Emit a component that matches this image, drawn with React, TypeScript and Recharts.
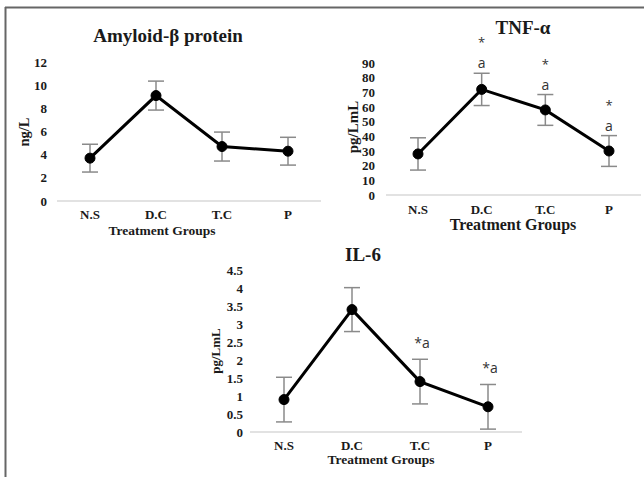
import React from 'react';
import { LineChart, Line, XAxis, YAxis, ErrorBar, LabelList } from 'recharts';

// groups on the x axis (same for all three panels)
const groups = ['N.S', 'D.C', 'T.C', 'P'];

const amyloidValues = [3.7, 9.1, 4.7, 4.3];
const amyloidErrors = [1.2, 1.25, 1.25, 1.2];
const amyloidTicks = [0, 2, 4, 6, 8, 10, 12];

const tnfValues = [28, 72, 58, 30];
const tnfErrors = [11, 11, 10.5, 10.5];
const tnfTicks = [0, 10, 20, 30, 40, 50, 60, 70, 80, 90];
const tnfStars = ['', '*', '*', '*'];
const tnfLetters = ['', 'a', 'a', 'a'];

const il6Values = [0.9, 3.4, 1.4, 0.7];
const il6Errors = [0.62, 0.61, 0.62, 0.62];
const il6Ticks = [0, 0.5, 1, 1.5, 2, 2.5, 3, 3.5, 4, 4.5];
const il6Marks = ['', '', '*a', '*a'];

const buildRows = (values: number[], errors: number[]) =>
  groups.map((g, i) => ({ group: g, value: values[i], err: errors[i], top: values[i] + errors[i] }));

const serif = '"Liberation Serif", "Times New Roman", serif';
const sans = '"Open Sans", "Liberation Sans", sans-serif';
const ink = '#1a1a1a';

type PanelProps = {
  left: number;
  top: number;
  width: number;
  height: number;
  margin: { top: number; right: number; bottom: number; left: number };
  yWidth: number;
  yTickMargin: number;
  xTickMargin: number;
  pad: number;
  domain: [number, number];
  ticks: number[];
  rows: ReturnType<typeof buildRows>;
  marks?: (p: any) => React.ReactElement | null;
};

const Panel = (p: PanelProps) => {
  const tickStyle = { fill: ink, fontSize: 13, fontWeight: 700, fontFamily: serif };
  return (
    <div style={{ position: 'absolute', left: p.left, top: p.top }}>
      <LineChart width={p.width} height={p.height} data={p.rows} margin={p.margin}>
        <XAxis
          dataKey="group"
          height={30}
          padding={{ left: p.pad, right: p.pad }}
          tickLine={false}
          tickSize={0}
          tickMargin={p.xTickMargin}
          axisLine={{ stroke: '#d9d9d9', strokeWidth: 1.5 }}
          tick={tickStyle}
          interval={0}
        />
        <YAxis
          width={p.yWidth}
          domain={p.domain}
          ticks={p.ticks}
          interval={0}
          axisLine={false}
          tickLine={false}
          tickSize={0}
          tickMargin={p.yTickMargin}
          tick={tickStyle}
        />
        <Line
          dataKey="value"
          stroke="#000"
          strokeWidth={3}
          dot={{ r: 5, fill: '#000', stroke: '#000', strokeWidth: 1 }}
          activeDot={false}
          isAnimationActive={false}
        >
          <ErrorBar dataKey="err" direction="y" width={8} stroke="#8a8a8a" strokeWidth={1.5} />
        </Line>
        {p.marks && (
          <Line dataKey="top" stroke="none" dot={false} activeDot={false} isAnimationActive={false}>
            <LabelList dataKey="top" content={p.marks} />
          </Line>
        )}
      </LineChart>
    </div>
  );
};

const tnfMarks = (props: any) => {
  const { x, y, index } = props;
  if (!tnfStars[index]) return null;
  return (
    <g>
      <text x={x} y={y - 26} textAnchor="middle" fontSize={13} fontFamily={sans} fill="#333">
        {tnfStars[index]}
      </text>
      <text x={x} y={y - 5} textAnchor="middle" fontSize={14} fontFamily={sans} fill="#333">
        {tnfLetters[index]}
      </text>
    </g>
  );
};

const il6MarkLabels = (props: any) => {
  const { x, y, index } = props;
  if (!il6Marks[index]) return null;
  return (
    <text x={x + 2} y={y - 11} textAnchor="middle" fontSize={14} fontFamily={sans} fill="#333">
      {il6Marks[index]}
    </text>
  );
};

export default function App() {
  return (
    <div style={{ position: 'absolute', left: 0, top: 0, width: 644, height: 477, background: '#fff', overflow: 'hidden' }}>
      <Panel
        left={0}
        top={0}
        width={330}
        height={240}
        margin={{ top: 62, right: 9, bottom: 9, left: 0 }}
        yWidth={57}
        yTickMargin={10}
        xTickMargin={9}
        pad={33}
        domain={[0, 12]}
        ticks={amyloidTicks}
        rows={buildRows(amyloidValues, amyloidErrors)}
      />
      <Panel
        left={320}
        top={0}
        width={324}
        height={240}
        margin={{ top: 63, right: 3, bottom: 15, left: 0 }}
        yWidth={66}
        yTickMargin={11}
        xTickMargin={10}
        pad={32}
        domain={[0, 90]}
        ticks={tnfTicks}
        rows={buildRows(tnfValues, tnfErrors)}
        marks={tnfMarks}
      />
      <Panel
        left={180}
        top={240}
        width={360}
        height={237}
        margin={{ top: 30, right: 18, bottom: 15, left: 0 }}
        yWidth={70}
        yTickMargin={7}
        xTickMargin={9}
        pad={34}
        domain={[0, 4.5]}
        ticks={il6Ticks}
        rows={buildRows(il6Values, il6Errors)}
        marks={il6MarkLabels}
      />
      <svg width={644} height={477} style={{ position: 'absolute', left: 0, top: 0, pointerEvents: 'none' }}>
        <line x1={5} y1={7.5} x2={644} y2={7.5} stroke="#666" strokeWidth={2} />
        <line x1={5.5} y1={7} x2={5.5} y2={477} stroke="#666" strokeWidth={2} />
        <g fontFamily={serif} fontWeight={700} fill={ink} textAnchor="middle">
          <text x={168} y={42} fontSize={19}>Amyloid-β protein</text>
          <text x={523} y={34} fontSize={19}>TNF-α</text>
          <text x={363} y={261} fontSize={19}>IL-6</text>
          <text x={162} y={235} fontSize={13.5}>Treatment Groups</text>
          <text x={513} y={230} fontSize={16}>Treatment Groups</text>
          <text x={381} y={464} fontSize={13.5}>Treatment Groups</text>
          <text x={29} y={132} fontSize={14.5} transform="rotate(-90 29 132)">ng/L</text>
          <text x={358} y={127} fontSize={15} transform="rotate(-90 358 127)">pg/LmL</text>
          <text x={219.5} y={351} fontSize={13} transform="rotate(-90 219.5 351)">pg/LmL</text>
        </g>
      </svg>
    </div>
  );
}
